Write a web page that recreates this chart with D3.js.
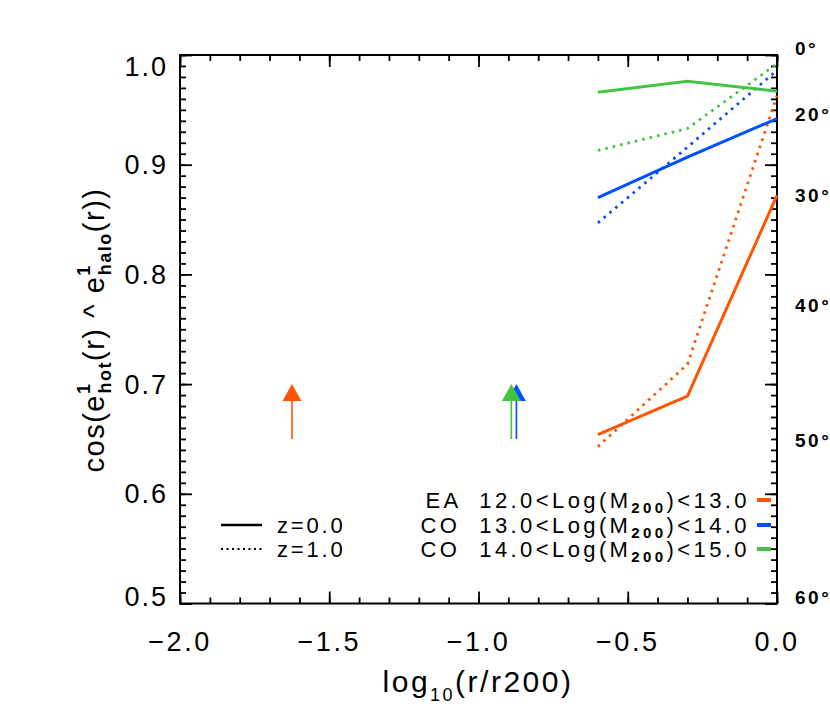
<!DOCTYPE html>
<html><head><meta charset="utf-8">
<script src="https://cdn.jsdelivr.net/npm/d3@7"></script>
<style>body{margin:0;background:#fff}svg{display:block}</style>
</head><body>
<script>
// ---- data ----
const xs = [-0.6, -0.3, 0.0];
const eaZ0   = [0.654, 0.689, 0.872];
const eaZ1   = [0.643, 0.718, 0.963];
const co13Z0 = [0.870, 0.907, 0.942];
const co13Z1 = [0.847, 0.916, 0.986];
const co14Z0 = [0.966, 0.976, 0.967];
const co14Z1 = [0.913, 0.933, 0.992];
const arrowX = [-1.625, -0.873, -0.890];   // EA, CO13, CO14
const arrowY = [0.65, 0.70];
const seriesPrefix = ["EA", "CO", "CO"];
const seriesLo = ["12.0", "13.0", "14.0"];
const seriesHi = ["13.0", "14.0", "15.0"];
const seriesColors = ["#ff5500", "#0050ff", "#44c444"];
const zLabels = ["z=0.0", "z=1.0"];
const xTicks = [-2.0, -1.5, -1.0, -0.5, 0.0];
const xTickLabels = ["\u22122.0", "\u22121.5", "\u22121.0", "\u22120.5", "0.0"];
const yTicks = [0.5, 0.6, 0.7, 0.8, 0.9, 1.0];
const yTickLabels = ["0.5", "0.6", "0.7", "0.8", "0.9", "1.0"];
const angleTicks = [0, 20, 30, 40, 50, 60];
const angleLabels = ["0\u00b0", "20\u00b0", "30\u00b0", "40\u00b0", "50\u00b0", "60\u00b0"];

const W = 830, H = 718;
const L = 180, R = 777, T = 55, B = 603.5;
const svg = d3.select("body").append("svg").attr("width", W).attr("height", H);
const x = d3.scaleLinear().domain([-2, 0]).range([L, R]);
const y = d3.scaleLinear().domain([0.5, 1.0]).range([B, T]);
const FONT = "'Liberation Sans', Arial, sans-serif";

const xMinor = d3.range(-2, 0.0001, 0.1).map(v => +v.toFixed(2));
const yMinor = d3.range(0.5, 1.0001, 0.01).map(v => +v.toFixed(3));

function styleAxis(g) {
  g.select(".domain").remove();
  g.selectAll("line").attr("stroke", "#000").attr("stroke-width", 1.8);
  g.selectAll("text").remove();
}
svg.append("g").attr("transform", `translate(0,${B})`).call(d3.axisBottom(x).tickValues(xMinor).tickSize(-6)).call(styleAxis);
svg.append("g").attr("transform", `translate(0,${B})`).call(d3.axisBottom(x).tickValues(xTicks).tickSize(-12)).call(styleAxis);
svg.append("g").attr("transform", `translate(0,${T})`).call(d3.axisTop(x).tickValues(xMinor).tickSize(-6)).call(styleAxis);
svg.append("g").attr("transform", `translate(0,${T})`).call(d3.axisTop(x).tickValues(xTicks).tickSize(-12)).call(styleAxis);
svg.append("g").attr("transform", `translate(${L},0)`).call(d3.axisLeft(y).tickValues(yMinor).tickSize(-6)).call(styleAxis);
svg.append("g").attr("transform", `translate(${L},0)`).call(d3.axisLeft(y).tickValues(yTicks).tickSize(-12)).call(styleAxis);
svg.append("g").attr("transform", `translate(${R},0)`).call(d3.axisRight(y).tickValues(yMinor).tickSize(-6)).call(styleAxis);
svg.append("g").attr("transform", `translate(${R},0)`).call(d3.axisRight(y).tickValues(yTicks).tickSize(-12)).call(styleAxis);

svg.append("rect").attr("x", L).attr("y", T).attr("width", R - L).attr("height", B - T)
  .attr("fill", "none").attr("stroke", "#000").attr("stroke-width", 2);

// tick labels
svg.append("g").selectAll("text").data(xTicks).join("text")
  .attr("x", d => x(d)).attr("y", 651)
  .attr("text-anchor", "middle").attr("font-family", FONT).attr("font-size", 27)
  .attr("letter-spacing", 2.5)
  .text((d, i) => xTickLabels[i]);
svg.append("g").selectAll("text").data(yTicks).join("text")
  .attr("x", 168).attr("y", d => y(d) + (d === 1.0 ? 21 : d === 0.5 ? 2 : 9.5))
  .attr("text-anchor", "end").attr("font-family", FONT).attr("font-size", 27)
  .attr("letter-spacing", 2)
  .text((d, i) => yTickLabels[i]);
svg.append("g").selectAll("text").data(angleTicks).join("text")
  .attr("x", 795).attr("y", d => y(Math.cos(d * Math.PI / 180)))
  .attr("font-family", FONT).attr("font-size", 19).attr("font-weight", "bold")
  .attr("letter-spacing", 2.5)
  .text((d, i) => angleLabels[i]);

// axis titles
const xt = svg.append("text").attr("x", 478).attr("y", 692).attr("text-anchor", "middle")
  .attr("font-family", FONT).attr("font-size", 30).attr("letter-spacing", 2.5);
xt.append("tspan").text("log");
xt.append("tspan").attr("font-size", 18).attr("dy", 9).text("10");
xt.append("tspan").attr("dy", -9).text("(r/r200)");

const yt = svg.append("text").attr("transform", "translate(104,330) rotate(-90)")
  .attr("text-anchor", "middle").attr("font-family", FONT).attr("font-size", 29).attr("letter-spacing", 1.5);
yt.append("tspan").text("cos(e");
yt.append("tspan").attr("font-size", 18).attr("font-weight", "bold").attr("dy", -14).text("1");
yt.append("tspan").attr("font-size", 18).attr("font-weight", "bold").attr("dx", -11).attr("dy", 21).text("hot");
yt.append("tspan").attr("dy", -7).text("(r) ^ e");
yt.append("tspan").attr("font-size", 18).attr("font-weight", "bold").attr("dy", -14).text("1");
yt.append("tspan").attr("font-size", 18).attr("font-weight", "bold").attr("dx", -11).attr("dy", 21).text("halo");
yt.append("tspan").attr("dy", -7).text("(r))");

// data lines
const line = d3.line().x((d, i) => x(xs[i])).y(d => y(d));
const series = [
  {v: eaZ0, c: 0, dot: false}, {v: eaZ1, c: 0, dot: true},
  {v: co13Z0, c: 1, dot: false}, {v: co13Z1, c: 1, dot: true},
  {v: co14Z0, c: 2, dot: false}, {v: co14Z1, c: 2, dot: true}
];
svg.append("g").selectAll("path").data(series).join("path")
  .attr("d", d => line(d.v)).attr("fill", "none")
  .attr("stroke", d => seriesColors[d.c])
  .attr("stroke-width", d => d.dot ? 2.8 : 3)
  .attr("stroke-dasharray", d => d.dot ? "2.6,5" : null);

// arrows
const ag = svg.append("g");
arrowX.forEach((ax, i) => {
  const px = x(ax), tip = y(arrowY[1]), bot = y(arrowY[0]);
  ag.append("line").attr("x1", px).attr("x2", px).attr("y1", bot).attr("y2", tip + 14)
    .attr("stroke", seriesColors[i]).attr("stroke-width", 1.6);
});
[0, 1, 2].forEach(i => {
  const px = x(arrowX[i]), tip = y(arrowY[1]);
  ag.append("path").attr("d", `M${px},${tip}L${px + 9.5},${tip + 17}L${px - 9.5},${tip + 17}Z`)
    .attr("fill", seriesColors[i]);
});

// legend: z styles
const zRows = [525, 549];
zLabels.forEach((lab, i) => {
  svg.append("line").attr("x1", 221).attr("x2", 262).attr("y1", zRows[i]).attr("y2", zRows[i])
    .attr("stroke", "#000").attr("stroke-width", i ? 2 : 2.4)
    .attr("stroke-dasharray", i ? "2,3.5" : null);
  svg.append("text").attr("x", 277).attr("y", zRows[i] + 8)
    .attr("font-family", FONT).attr("font-size", 22).attr("letter-spacing", 2.8).text(lab);
});
// legend: mass bins
const mRows = [500, 525, 549];
seriesPrefix.forEach((p, i) => {
  const t = svg.append("text").attr("x", 750).attr("y", mRows[i] + 8).attr("text-anchor", "end")
    .attr("font-family", FONT).attr("font-size", 22).attr("letter-spacing", 3.4).attr("xml:space", "preserve");
  t.append("tspan").text(p + "  " + seriesLo[i] + "<Log(M");
  t.append("tspan").attr("font-size", 15).attr("font-weight", "bold").attr("dy", 5).text("200");
  t.append("tspan").attr("dy", -5).text(")<" + seriesHi[i]);
  svg.append("line").attr("x1", 757).attr("x2", 771).attr("y1", mRows[i]).attr("y2", mRows[i])
    .attr("stroke", seriesColors[i]).attr("stroke-width", 4);
});
</script>
</body></html>
